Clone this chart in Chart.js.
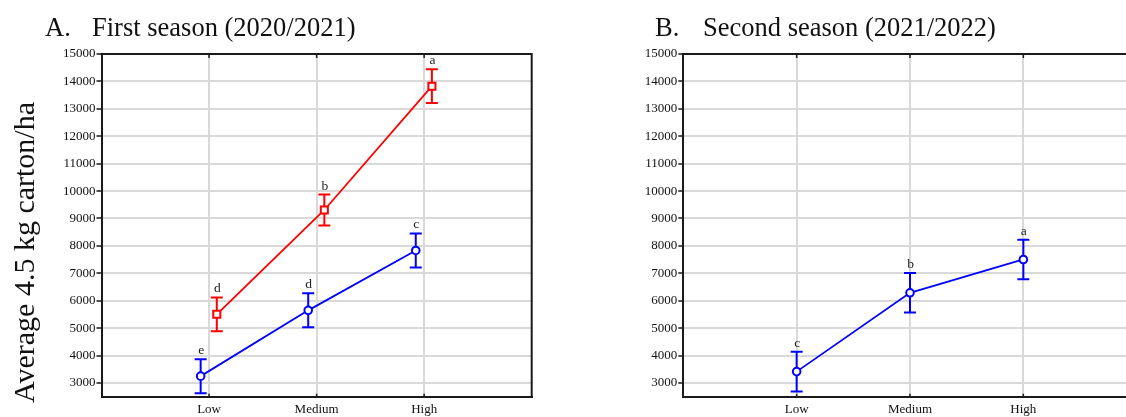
<!DOCTYPE html>
<html><head><meta charset="utf-8">
<script src="https://cdn.jsdelivr.net/npm/chart.js@4"></script>
<style>
html,body{margin:0;padding:0;background:#fff;overflow:hidden;width:1126px;height:417px;position:relative;}
#ca{position:absolute;left:0;top:0;}
#cb{position:absolute;left:580px;top:0;}
</style></head><body>
<canvas id="ca" width="560" height="417"></canvas>
<canvas id="cb" width="580" height="417"></canvas>
<script>
// ---- data ----
const categories = ['Low', 'Medium', 'High'];
const yTickValues = [3000, 4000, 5000, 6000, 7000, 8000, 9000, 10000, 11000, 12000, 13000, 14000, 15000];

const aRedValues = [5505, 9310, 13825];
const aRedErrors = [615, 565, 615];
const aRedLetters = ['d', 'b', 'a'];

const aBlueValues = [3250, 5650, 7835];
const aBlueErrors = [620, 620, 620];
const aBlueLetters = ['e', 'd', 'c'];

const bBlueValues = [3415, 6289, 7505];
const bBlueErrors = [727, 722, 722];
const bBlueLetters = ['c', 'b', 'a'];

// ---- style ----
const FONT = 'Liberation Serif';
const DARK = '#1a1a1a';
const GRID = '#d9d9d9';
const RED = '#ff0000';
const BLUE = '#0000ff';
Chart.defaults.font.family = FONT;

function pts(values, offset) {
  return values.map((v, i) => ({ x: i + 1 + offset, y: v }));
}

function series(values, errors, letters, color, style, offset) {
  return {
    data: pts(values, offset),
    errors: errors,
    letters: letters,
    borderColor: color,
    borderWidth: 1.8,
    pointStyle: style,
    pointRadius: style === 'rect' ? 5 : 3.8,
    pointBorderWidth: 2,
    pointBorderColor: color,
    pointBackgroundColor: '#ffffff',
    fill: false,
    tension: 0,
    clip: false
  };
}

const errorBarPlugin = {
  id: 'errorBars',
  beforeDatasetsDraw(chart) {
    const ctx = chart.ctx, xs = chart.scales.x, ys = chart.scales.y;
    chart.data.datasets.forEach(ds => {
      ctx.save();
      ctx.strokeStyle = ds.borderColor;
      ctx.lineWidth = 2;
      ds.data.forEach((p, i) => {
        const x = xs.getPixelForValue(p.x);
        const yt = ys.getPixelForValue(p.y + ds.errors[i]);
        const yb = ys.getPixelForValue(p.y - ds.errors[i]);
        ctx.beginPath();
        ctx.moveTo(x, yt); ctx.lineTo(x, yb);
        ctx.moveTo(x - 6, yt); ctx.lineTo(x + 6, yt);
        ctx.moveTo(x - 6, yb); ctx.lineTo(x + 6, yb);
        ctx.stroke();
      });
      ctx.restore();
    });
  },
  afterDatasetsDraw(chart) {
    const ctx = chart.ctx, xs = chart.scales.x, ys = chart.scales.y;
    ctx.save();
    ctx.fillStyle = '#222';
    ctx.font = '13.5px ' + FONT;
    ctx.textAlign = 'center';
    ctx.textBaseline = 'alphabetic';
    chart.data.datasets.forEach(ds => {
      ds.data.forEach((p, i) => {
        const x = xs.getPixelForValue(p.x);
        const yt = ys.getPixelForValue(p.y + ds.errors[i]);
        ctx.fillText(ds.letters[i], x + 0.5, yt - 5);
      });
    });
    ctx.restore();
  }
};

function framePlugin(letter, title, letterX, titleX, yTitle) {
  return {
    id: 'frame',
    afterDraw(chart) {
      const ctx = chart.ctx, a = chart.chartArea, xs = chart.scales.x;
      ctx.save();
      ctx.strokeStyle = DARK;
      ctx.lineWidth = 2;
      ctx.beginPath();
      ctx.moveTo(a.left - 1, a.top); ctx.lineTo(a.right + 1, a.top);
      ctx.moveTo(a.right, a.top); ctx.lineTo(a.right, a.bottom + 1);
      ctx.stroke();
      ctx.lineWidth = 1.5;
      ctx.beginPath();
      [1, 2, 3].forEach(v => {
        const x = xs.getPixelForValue(v);
        ctx.moveTo(x, a.top); ctx.lineTo(x, a.top + 4);
        ctx.moveTo(x, a.bottom); ctx.lineTo(x, a.bottom - 3);
      });
      ctx.stroke();
      ctx.fillStyle = '#111';
      ctx.textBaseline = 'alphabetic';
      ctx.textAlign = 'left';
      ctx.font = '26.5px ' + FONT;
      ctx.fillText(letter, letterX, 36);
      ctx.fillText(title, titleX, 36);
      if (yTitle) {
        ctx.save();
        ctx.translate(34, 252.5);
        ctx.rotate(-Math.PI / 2);
        ctx.textAlign = 'center';
        ctx.font = '30px ' + FONT;
        ctx.fillText(yTitle, 0, 0);
        ctx.restore();
      }
      ctx.restore();
    }
  };
}

function makeOptions(yWidth, rightPad) {
  return {
    responsive: false,
    animation: false,
    events: [],
    layout: { padding: { top: 54, right: rightPad, left: 0, bottom: 0 } },
    plugins: { legend: { display: false }, tooltip: { enabled: false }, title: { display: false } },
    scales: {
      x: {
        type: 'linear', min: 0, max: 4,
        afterBuildTicks: s => { s.ticks = [1, 2, 3].map(v => ({ value: v })); },
        afterFit: s => { s.height = 20.3; },
        ticks: { callback: v => categories[Math.round(v) - 1] || '', color: '#111', font: { size: 13 }, padding: 5.5, maxRotation: 0, autoSkip: false },
        grid: { color: GRID, lineWidth: 2, drawTicks: false },
        border: { color: DARK, width: 2 }
      },
      y: {
        type: 'linear', min: 2500, max: 15000,
        afterBuildTicks: s => { s.ticks = yTickValues.map(v => ({ value: v })); },
        afterFit: s => { s.width = yWidth; },
        ticks: { callback: v => String(v), color: '#111', font: { size: 13 }, padding: 1, autoSkip: false },
        grid: { color: GRID, lineWidth: 2, tickColor: DARK, tickLength: 5, tickWidth: 1.5 },
        border: { color: DARK, width: 2 }
      }
    }
  };
}

new Chart(document.getElementById('ca'), {
  type: 'line',
  data: {
    datasets: [
      series(aBlueValues, aBlueErrors, aBlueLetters, BLUE, 'circle', -0.078),
      series(aRedValues, aRedErrors, aRedLetters, RED, 'rect', 0.072)
    ]
  },
  options: makeOptions(101.5, 28.3),
  plugins: [errorBarPlugin, framePlugin('A.', 'First season (2020/2021)', 45, 92, 'Average 4.5 kg carton/ha')]
});

new Chart(document.getElementById('cb'), {
  type: 'line',
  data: {
    datasets: [
      series(bBlueValues, bBlueErrors, bBlueLetters, BLUE, 'circle', 0)
    ]
  },
  options: makeOptions(103.3, 23.3),
  plugins: [errorBarPlugin, framePlugin('B.', 'Second season (2021/2022)', 75, 123, null)]
});
</script>
</body></html>
